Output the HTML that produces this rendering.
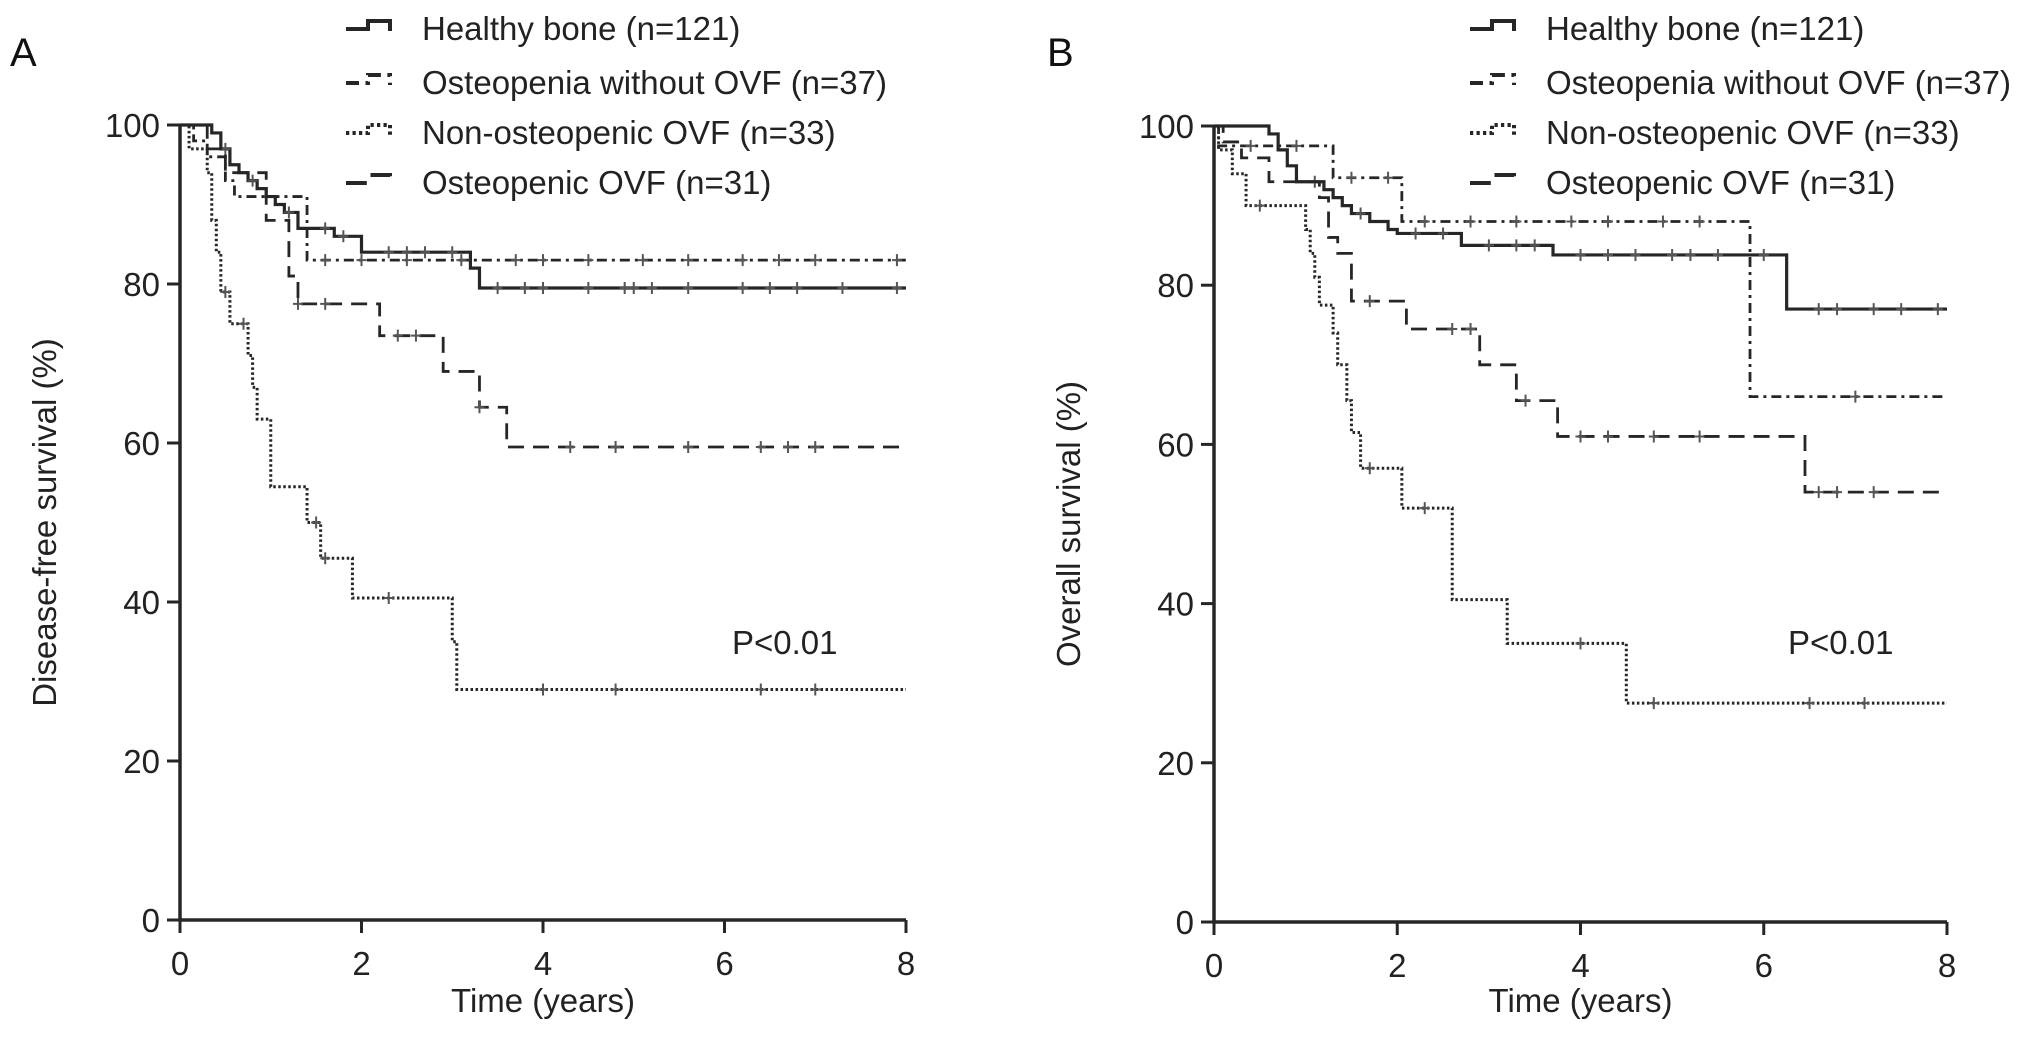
<!DOCTYPE html>
<html><head><meta charset="utf-8"><style>
html,body{margin:0;padding:0;background:#fff;}
svg{display:block;font-family:"Liberation Sans",Arial,sans-serif;}
</style></head><body>
<svg id="fig" width="2032" height="1042" viewBox="0 0 2032 1042"></svg>
<script>
const tickYears=[0,2,4,6,8];
const tickPct=[0,20,40,60,80,100];
const seriesNames=["Healthy bone (n=121)","Osteopenia without OVF (n=37)","Non-osteopenic OVF (n=33)","Osteopenic OVF (n=31)"];
// Panel A (disease-free survival): [time, value] steps
const aHealthyT=[0.35,0.45,0.55,0.65,0.75,0.85,0.95,1.05,1.15,1.3,1.7,2.0,3.2,3.3];
const aHealthyV=[99,97,95,94,93,92,91,90,89,87,86,84,82,79.5];
const aOsteoT=[0.15,0.3,0.5,0.6,1.4];
const aOsteoV=[98,96,93,91,83];
const aNonT=[0.1,0.3,0.35,0.4,0.45,0.55,0.75,0.8,0.85,1.0,1.4,1.55,1.9,3.0,3.05];
const aNonV=[97,94,88,84,79,75,71,67,63,54.5,50,45.5,40.5,35,29];
const aOvfT=[0.3,0.5,0.95,1.2,1.3,2.2,2.9,3.3,3.6];
const aOvfV=[97,94,88,81,77.5,73.5,69,64.5,59.5];
const aHealthyC=[0.5,0.8,1.2,1.6,1.8,2.3,2.5,2.7,3.0,3.5,3.8,4.0,4.5,4.9,5.0,5.2,5.6,6.2,6.5,6.8,7.3,7.9];
const aOsteoC=[1.6,2.0,2.5,3.1,3.7,4.0,4.5,5.1,5.6,6.2,6.6,7.0,7.9];
const aNonC=[0.5,0.7,1.5,1.6,2.3,4.0,4.8,6.4,7.0];
const aOvfC=[1.3,1.6,2.4,2.6,3.3,4.3,4.8,5.6,6.4,6.7,7.0];
// Panel B (overall survival)
const bHealthyT=[0.6,0.7,0.8,0.9,1.2,1.3,1.4,1.5,1.7,1.9,2.0,2.7,3.7,6.25];
const bHealthyV=[99,97,95,93,92,91,90,89,88,87,86.5,85,83.8,77];
const bOsteoT=[0.05,1.3,2.05,5.85];
const bOsteoV=[97.5,93.5,88,66];
const bNonT=[0.05,0.2,0.35,1.0,1.05,1.1,1.15,1.3,1.35,1.45,1.5,1.6,2.05,2.6,3.2,4.5];
const bNonV=[97,94,90,87,84,81,77.5,74,70,65.5,61.5,57,52,40.5,35,27.5];
const bOvfT=[0.1,0.3,0.6,1.15,1.25,1.35,1.5,2.1,2.9,3.3,3.75,6.45];
const bOvfV=[98,96,93,91,86,84,78,74.5,70,65.5,61,54];
const bHealthyC=[1.1,1.6,2.2,2.5,3.0,3.3,3.5,4.0,4.3,4.6,5.0,5.2,5.5,6.0,6.6,6.8,7.2,7.5,7.9];
const bOsteoC=[0.4,0.9,1.5,1.9,2.3,2.8,3.3,3.9,4.3,4.9,5.3,7.0];
const bNonC=[0.5,1.7,2.3,4.0,4.8,6.5,7.1];
const bOvfC=[1.7,2.6,2.8,3.4,4.0,4.3,4.8,5.3,6.6,6.8,7.2];

const NS="http://www.w3.org/2000/svg";
const svg=document.getElementById('fig');
function el(tag,attrs,parent){const e=document.createElementNS(NS,tag);for(const k in attrs)e.setAttribute(k,attrs[k]);(parent||svg).appendChild(e);return e;}
const INK="#262626";
const FS=33;
const styles=[{w:3.2,d:""},{w:2.8,d:"10 5 3 5"},{w:3,d:"2.5 2.5"},{w:2.8,d:"16 9"}];
const seriesKeys=["healthy-bone","osteopenia-without-ovf","non-osteopenic-ovf","osteopenic-ovf"];

function panel(cfg){
  const g=el('g',{});
  
  
  const x=t=>cfg.x0+(cfg.x1-cfg.x0)*t/8;
  const y=v=>cfg.y0+(cfg.y100-cfg.y0)*v/100;
  const ax=el('path',{d:`M${x(0)} ${y(100)} V${y(0)} H${x(8)}`,stroke:INK,'stroke-width':3.5,fill:'none'},g);
  
  tickYears.forEach(t=>{
    el('line',{x1:x(t),x2:x(t),y1:y(0),y2:y(0)+13,stroke:INK,'stroke-width':3},g);
    const tx=el('text',{x:x(t),y:y(0)+55,'font-size':FS,'text-anchor':'middle',fill:'#222'},g);
    tx.textContent=t;
    
  });
  tickPct.forEach(v=>{
    el('line',{x1:x(0)-13,x2:x(0),y1:y(v),y2:y(v),stroke:INK,'stroke-width':3},g);
    const tx=el('text',{x:x(0)-20,y:y(v)+12,'font-size':FS,'text-anchor':'end',fill:'#222'},g);
    tx.textContent=v;
    
  });
  const xt=el('text',{x:(x(0)+x(8))/2,y:1012,'font-size':FS,'text-anchor':'middle',fill:'#222'},g);
  xt.textContent='Time (years)';
  
  const yt=el('text',{x:0,y:0,'font-size':FS,'text-anchor':'middle',fill:'#222',transform:`translate(${cfg.ytx},${(y(0)+y(100))/2}) rotate(-90)`},g);
  yt.textContent=cfg.ytitle;
  
  const lab=el('text',{x:cfg.lx,y:66,'font-size':40,fill:'#111'},g);
  lab.textContent=cfg.id.toUpperCase();
  
  const p=el('text',{x:cfg.px,y:654,'font-size':FS,fill:'#222'},g);
  p.textContent='P<0.01';
  
  cfg.series.forEach((s,i)=>{
    let d=`M${x(0)} ${y(100)}`;
    s.T.forEach((t,j)=>{d+=` H${x(t)} V${y(s.V[j])}`;});
    d+=` H${x(8)}`;
    const path=el('path',{d,stroke:INK,'stroke-width':styles[i].w,fill:'none','stroke-dasharray':styles[i].d},g);
    
    
    const val=t=>{let v=100;s.T.forEach((tt,j)=>{if(t>=tt)v=s.V[j];});return v;};
    s.C.forEach(t=>{
      const m=el('path',{d:`M${x(t)} ${y(val(t))-6} v12 M${x(t)-5} ${y(val(t))} h10`,stroke:'#555','stroke-width':2,fill:'none'},g);
      
      
    });
  });
  const rows=[38,92,142,192];
  seriesNames.forEach((n,i)=>{
    const lg=el('g',{},g);
    
    
    el('path',{d:`M${cfg.legx} ${rows[i]-9} h22 v-8 h22 v10`,stroke:INK,'stroke-width':4,fill:'none','stroke-dasharray':styles[i].d?styles[i].d.split(' ').map(v=>v*1.3).join(' '):''},lg);
    const t=el('text',{x:cfg.legx+76,y:rows[i]+2,'font-size':FS,fill:'#222'},lg);
    t.textContent=n;
  });
}
panel({id:'a',x0:180,x1:906,y0:920,y100:125,ytx:56,lx:10,px:732,legx:346,ytitle:'Disease-free survival (%)',
  series:[{T:aHealthyT,V:aHealthyV,C:aHealthyC},{T:aOsteoT,V:aOsteoV,C:aOsteoC},{T:aNonT,V:aNonV,C:aNonC},{T:aOvfT,V:aOvfV,C:aOvfC}]});
panel({id:'b',x0:1214,x1:1947,y0:922,y100:126,ytx:1080,lx:1047,px:1788,legx:1470,ytitle:'Overall survival (%)',
  series:[{T:bHealthyT,V:bHealthyV,C:bHealthyC},{T:bOsteoT,V:bOsteoV,C:bOsteoC},{T:bNonT,V:bNonV,C:bNonC},{T:bOvfT,V:bOvfV,C:bOvfC}]});
</script>
</body></html>
